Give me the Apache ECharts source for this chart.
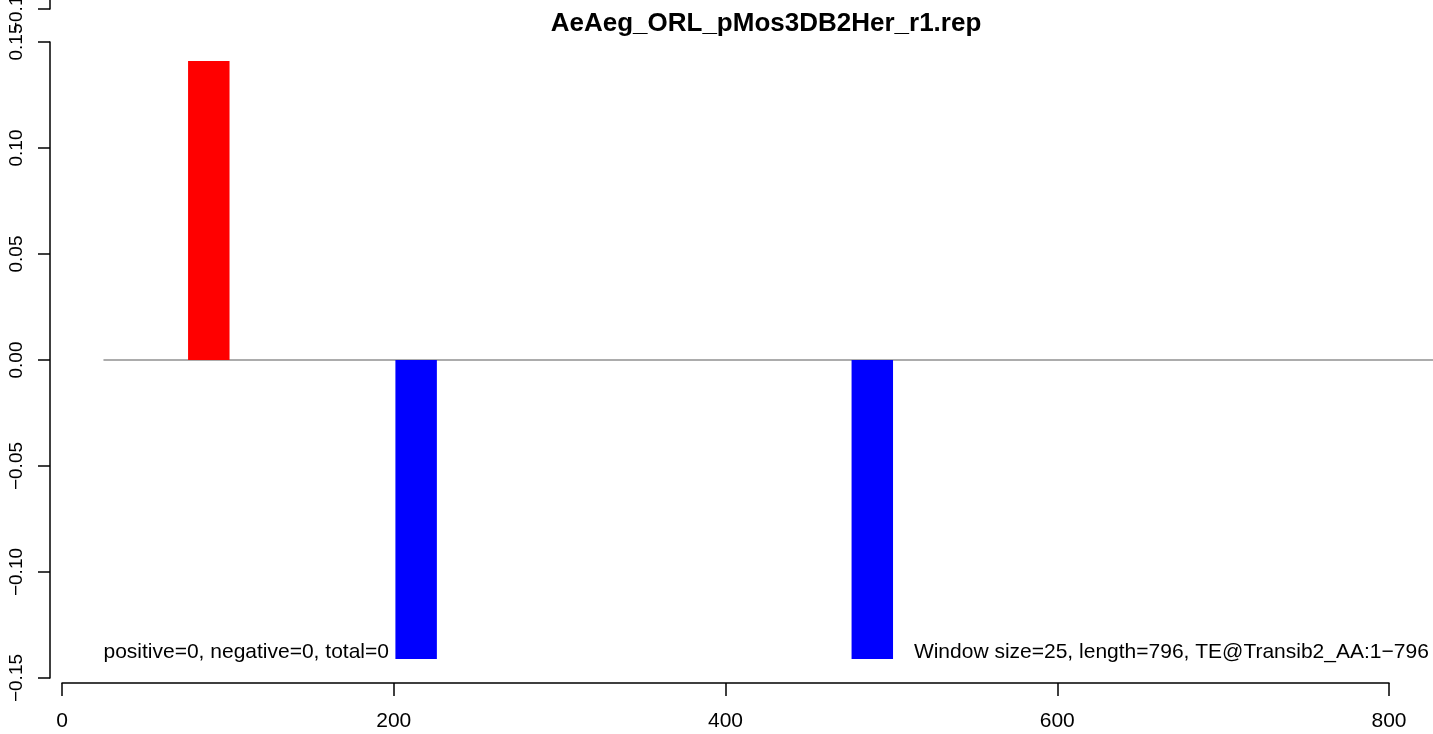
<!DOCTYPE html>
<html>
<head>
<meta charset="utf-8">
<script src="https://cdn.jsdelivr.net/npm/echarts@6/dist/echarts.min.js"></script>
<style>html,body{margin:0;padding:0;background:#fff}#c{width:1433px;height:734px}</style>
</head>
<body>
<div id="c"></div>
<script>
// ---- data ----
const titleText = 'AeAeg_ORL_pMos3DB2Her_r1.rep';
const windowStarts = [76, 201, 476];
const windowSize = 25;
const windowValues = [0.141, -0.141, -0.141];
const xTicks = [0, 200, 400, 600, 800];
const yTicks = [-0.15, -0.10, -0.05, 0.00, 0.05, 0.10, 0.15];
const baselineFrom = [25];
const baselineTo = [827];
const noteX = [25, 824];
const noteY = [-0.141, -0.141];
const noteText = ['positive=0, negative=0, total=0', 'Window size=25, length=796, TE@Transib2_AA:1\u2212796'];
const noteAlign = ['left', 'right'];

const FONT = 'Liberation Sans, Arial, Helvetica, sans-serif';
const barData = windowStarts.map((s, i) => [s, s + windowSize, windowValues[i]]);
const yStep = yTicks[1] - yTicks[0];
const xStep = xTicks[1] - xTicks[0];
const fmtY = v => (Math.abs(v) < 1e-9 ? 0 : v).toFixed(2).replace('-', '\u2212');

function yAxisCfg(gi) {
  return {
    type: 'value', gridIndex: gi,
    min: yTicks[0], max: yTicks[yTicks.length - 1], interval: yStep,
    offset: 12,
    axisLine: {show: true, onZero: false, lineStyle: {color: '#000', width: 1.5}},
    axisTick: {show: true, length: 12, lineStyle: {color: '#000', width: 1.5}},
    splitLine: {show: false},
    axisLabel: {rotate: 90, margin: 24, color: '#000', fontFamily: FONT, fontSize: 19, formatter: fmtY}
  };
}

const chart = echarts.init(document.getElementById('c'), null, {renderer: 'canvas'});
chart.setOption({
  animation: false,
  backgroundColor: '#fff',
  grid: [
    {left: 62, width: 1327, top: 42, height: 636, outerBoundsMode: 'none', containLabel: false},
    {left: 62, width: 1327, top: -627, height: 636, outerBoundsMode: 'none', containLabel: false}
  ],
  graphic: [{
    type: 'text', x: 766, y: 11,
    style: {text: titleText, font: 'bold 26px ' + FONT, fill: '#000', textAlign: 'center', textVerticalAlign: 'top'}
  }],
  xAxis: [
    {
      type: 'value', gridIndex: 0,
      min: xTicks[0], max: xTicks[xTicks.length - 1], interval: xStep,
      offset: 5,
      axisLine: {show: true, onZero: false, lineStyle: {color: '#000', width: 1.5}},
      axisTick: {show: true, length: 13, lineStyle: {color: '#000', width: 1.5}},
      splitLine: {show: false},
      axisLabel: {margin: 28, color: '#000', fontFamily: FONT, fontSize: 21}
    },
    {type: 'value', gridIndex: 1, min: 0, max: 800, show: false}
  ],
  yAxis: [yAxisCfg(0), yAxisCfg(1)],
  series: [
    {
      type: 'custom', xAxisIndex: 0, yAxisIndex: 0, clip: false, silent: true,
      data: baselineFrom.map((f, i) => [f, baselineTo[i]]),
      renderItem: function (params, api) {
        const a = api.coord([api.value(0), 0]);
        const b = api.coord([api.value(1), 0]);
        return {
          type: 'line',
          shape: {x1: a[0], y1: a[1], x2: b[0], y2: b[1]},
          style: {stroke: '#909090', lineWidth: 1.6}
        };
      }
    },
    {
      type: 'custom', xAxisIndex: 0, yAxisIndex: 0, data: barData, clip: false,
      renderItem: function (params, api) {
        const s = api.value(0), e = api.value(1), v = api.value(2);
        const p1 = api.coord([s, v]);
        const p2 = api.coord([e, 0]);
        return {
          type: 'rect',
          shape: {x: p1[0], y: Math.min(p1[1], p2[1]), width: p2[0] - p1[0], height: Math.abs(p2[1] - p1[1])},
          style: {fill: v >= 0 ? '#ff0000' : '#0000ff'}
        };
      }
    },
    {
      type: 'custom', xAxisIndex: 0, yAxisIndex: 0, clip: false,
      data: noteX.map((x, i) => [x, noteY[i]]),
      renderItem: function (params, api) {
        const i = params.dataIndex;
        const p = api.coord([api.value(0), api.value(1)]);
        return {
          type: 'text', x: p[0], y: p[1] - 7,
          style: {text: noteText[i], textAlign: noteAlign[i], textVerticalAlign: 'middle',
                  font: '21px ' + FONT, fill: '#000'}
        };
      }
    },
    {type: 'line', xAxisIndex: 1, yAxisIndex: 1, data: [], symbol: 'none'}
  ]
});
</script>
</body>
</html>
